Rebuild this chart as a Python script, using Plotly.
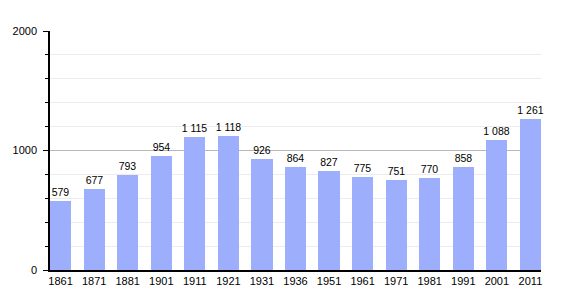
import plotly.graph_objects as go

years = ["1861", "1871", "1881", "1901", "1911", "1921", "1931", "1936",
         "1951", "1961", "1971", "1981", "1991", "2001", "2011"]
population = [579, 677, 793, 954, 1115, 1118, 926, 864, 827, 775, 751, 770, 858, 1088, 1261]
y_ticks = [0, 1000, 2000]

labels = [f"{v:,}".replace(",", " ") for v in population]
xpos = list(range(len(years)))
bw = 0.63

fig = go.Figure(go.Bar(
    x=xpos, y=population, width=bw,
    marker=dict(color="#9DAEFC", line=dict(width=0)),
    text=labels, textposition="outside", cliponaxis=False,
    constraintext="none",
    textfont=dict(family="Liberation Sans, Arial", size=10.5, color="#000"),
))

fig.update_layout(
    width=570, height=300,
    margin=dict(l=50, r=29, t=31, b=30),
    paper_bgcolor="white", plot_bgcolor="white",
    showlegend=False,
    uniformtext=dict(mode="show", minsize=10.5),
    font=dict(family="Liberation Sans, Arial", size=11, color="#000"),
    xaxis=dict(
        range=[-bw / 2, len(years) - 1 + bw / 2],
        tickmode="array", tickvals=xpos, ticktext=years,
        showline=True, linecolor="#000", linewidth=1.5,
        ticks="", showgrid=False, zeroline=False,
        tickfont=dict(size=11),
    ),
    yaxis=dict(
        range=[0, 2000], tickvals=y_ticks,
        showline=True, linecolor="#000", linewidth=1.5,
        ticks="outside", ticklen=5, tickcolor="#000",
        showgrid=True, gridcolor="#b8b8b8", gridwidth=1,
        zeroline=False, ticklabelstandoff=4,
        minor=dict(dtick=200, showgrid=True, gridcolor="#ececec",
                   ticks="outside", ticklen=3, tickcolor="#000"),
        tickfont=dict(size=11),
    ),
    bargap=0,
)

fig.write_html("out.html")
